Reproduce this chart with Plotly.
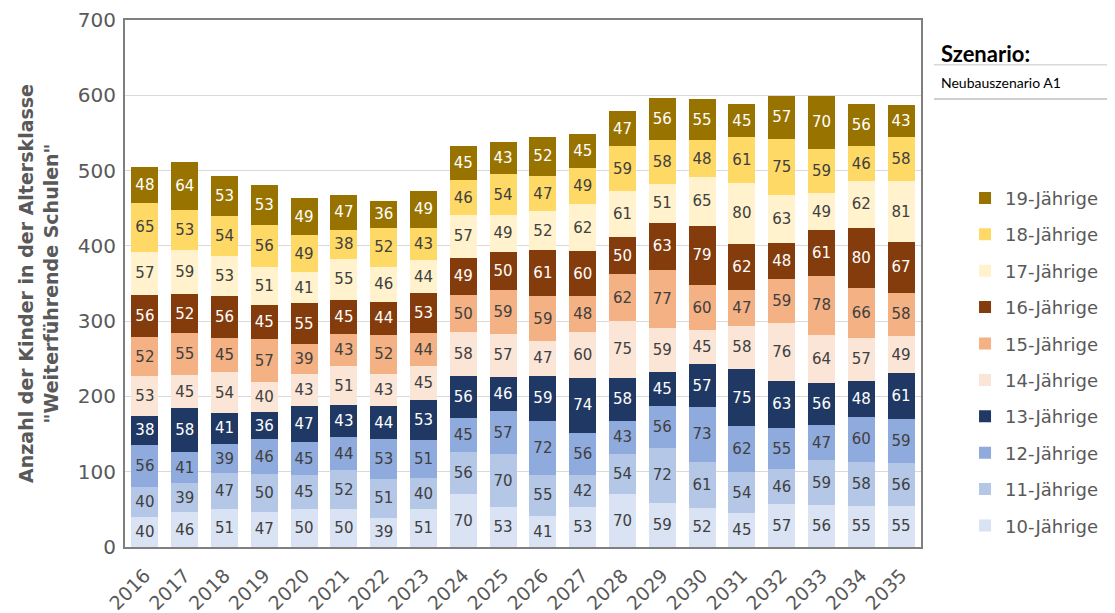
import plotly.graph_objects as go

years = [str(y) for y in range(2016, 2036)]

age10 = [40, 46, 51, 47, 50, 50, 39, 51, 70, 53, 41, 53, 70, 59, 52, 45, 57, 56, 55, 55]
age11 = [40, 39, 47, 50, 45, 52, 51, 40, 56, 70, 55, 42, 54, 72, 61, 54, 46, 59, 58, 56]
age12 = [56, 41, 39, 46, 45, 44, 53, 51, 45, 57, 72, 56, 43, 56, 73, 62, 55, 47, 60, 59]
age13 = [38, 58, 41, 36, 47, 43, 44, 53, 56, 46, 59, 74, 58, 45, 57, 75, 63, 56, 48, 61]
age14 = [53, 45, 54, 40, 43, 51, 43, 45, 58, 57, 47, 60, 75, 59, 45, 58, 76, 64, 57, 49]
age15 = [52, 55, 45, 57, 39, 43, 52, 44, 50, 59, 59, 48, 62, 77, 60, 47, 59, 78, 66, 58]
age16 = [56, 52, 56, 45, 55, 45, 44, 53, 49, 50, 61, 60, 50, 63, 79, 62, 48, 61, 80, 67]
age17 = [57, 59, 53, 51, 41, 55, 46, 44, 57, 49, 52, 62, 61, 51, 65, 80, 63, 49, 62, 81]
age18 = [65, 53, 54, 56, 49, 38, 52, 43, 46, 54, 47, 49, 59, 58, 48, 61, 75, 59, 46, 58]
age19 = [48, 64, 53, 53, 49, 47, 36, 49, 45, 43, 52, 45, 47, 56, 55, 45, 57, 70, 56, 43]

series_names = ["10-Jährige", "11-Jährige", "12-Jährige", "13-Jährige", "14-Jährige",
                "15-Jährige", "16-Jährige", "17-Jährige", "18-Jährige", "19-Jährige"]
series_values = [age10, age11, age12, age13, age14, age15, age16, age17, age18, age19]
series_colors = ["#DAE3F3", "#B4C7E7", "#8FAADC", "#203864", "#FBE5D6",
                 "#F4B183", "#843C0C", "#FFF2CC", "#FFD966", "#997300"]
text_colors = ["#404040", "#404040", "#404040", "#FFFFFF", "#404040",
               "#404040", "#FFFFFF", "#404040", "#404040", "#FFFFFF"]

fig = go.Figure()
for i, (name, vals, col, tcol) in enumerate(zip(series_names, series_values, series_colors, text_colors)):
    fig.add_trace(go.Bar(
        x=years, y=vals, name=name,
        marker=dict(color=col, line=dict(width=0)),
        text=[str(v) for v in vals],
        textposition="inside",
        insidetextanchor="middle",
        textangle=0,
        textfont=dict(family="DejaVu Sans", size=15, color=tcol),
        legendgroup=name,
        legendrank=100 - i,
    ))

# page body has an 8px margin: figure is offset by 8px, so size it 8px smaller
fig.update_layout(
    barmode="stack",
    bargap=0.32,
    width=1107, height=605,
    autosize=False,
    margin=dict(l=117, r=193, t=12, b=66),
    paper_bgcolor="white",
    plot_bgcolor="white",
    uniformtext=dict(minsize=15, mode="show"),
    font=dict(family="DejaVu Sans", color="#595959"),
    legend=dict(
        traceorder="grouped",
        x=1.054, xanchor="left",
        y=0.697, yanchor="top",
        font=dict(family="DejaVu Sans", size=18, color="#595959"),
        tracegroupgap=10,
        bgcolor="rgba(0,0,0,0)",
    ),
    xaxis=dict(
        type="category",
        tickangle=-45,
        tickfont=dict(family="DejaVu Sans", size=19, color="#595959"),
        ticklabelstandoff=8,
        ticklabeloverflow="allow",
        automargin=False,
        showline=True, linecolor="#7F7F7F", linewidth=2, mirror=True,
        ticks="",
    ),
    yaxis=dict(
        range=[0, 700],
        dtick=100,
        tickfont=dict(family="DejaVu Sans", size=20, color="#595959"),
        ticklabelstandoff=3,
        ticklabeloverflow="allow",
        automargin=False,
        showgrid=True, gridcolor="#D9D9D9", gridwidth=1,
        showline=True, linecolor="#7F7F7F", linewidth=2, mirror=True,
        zeroline=False,
        ticks="",
        title=dict(
            text="<b>Anzahl der Kinder in der Altersklasse<br>\"Weiterführende Schulen\"</b>",
            font=dict(family="DejaVu Sans", size=19, color="#595959"),
            standoff=14,
        ),
    ),
)

fig.add_annotation(
    xref="paper", yref="paper", x=1.0226, y=0.937,
    xanchor="left", yanchor="middle", showarrow=False,
    text="<b>Szenario:</b>",
    font=dict(family="Lato", size=22, color="#000000"),
)
fig.add_annotation(
    xref="paper", yref="paper", x=1.0226, y=0.882,
    xanchor="left", yanchor="middle", showarrow=False,
    text="Neubauszenario A1",
    font=dict(family="Lato", size=14, color="#000000"),
)
fig.add_shape(type="line", xref="paper", yref="paper",
              x0=1.0163, x1=1.25, y0=0.915, y1=0.915,
              line=dict(color="#D9D9D9", width=1.5))
fig.add_shape(type="line", xref="paper", yref="paper",
              x0=1.0163, x1=1.25, y0=0.850, y1=0.850,
              line=dict(color="#BFBFBF", width=1.5))

fig.write_html("out.html")
